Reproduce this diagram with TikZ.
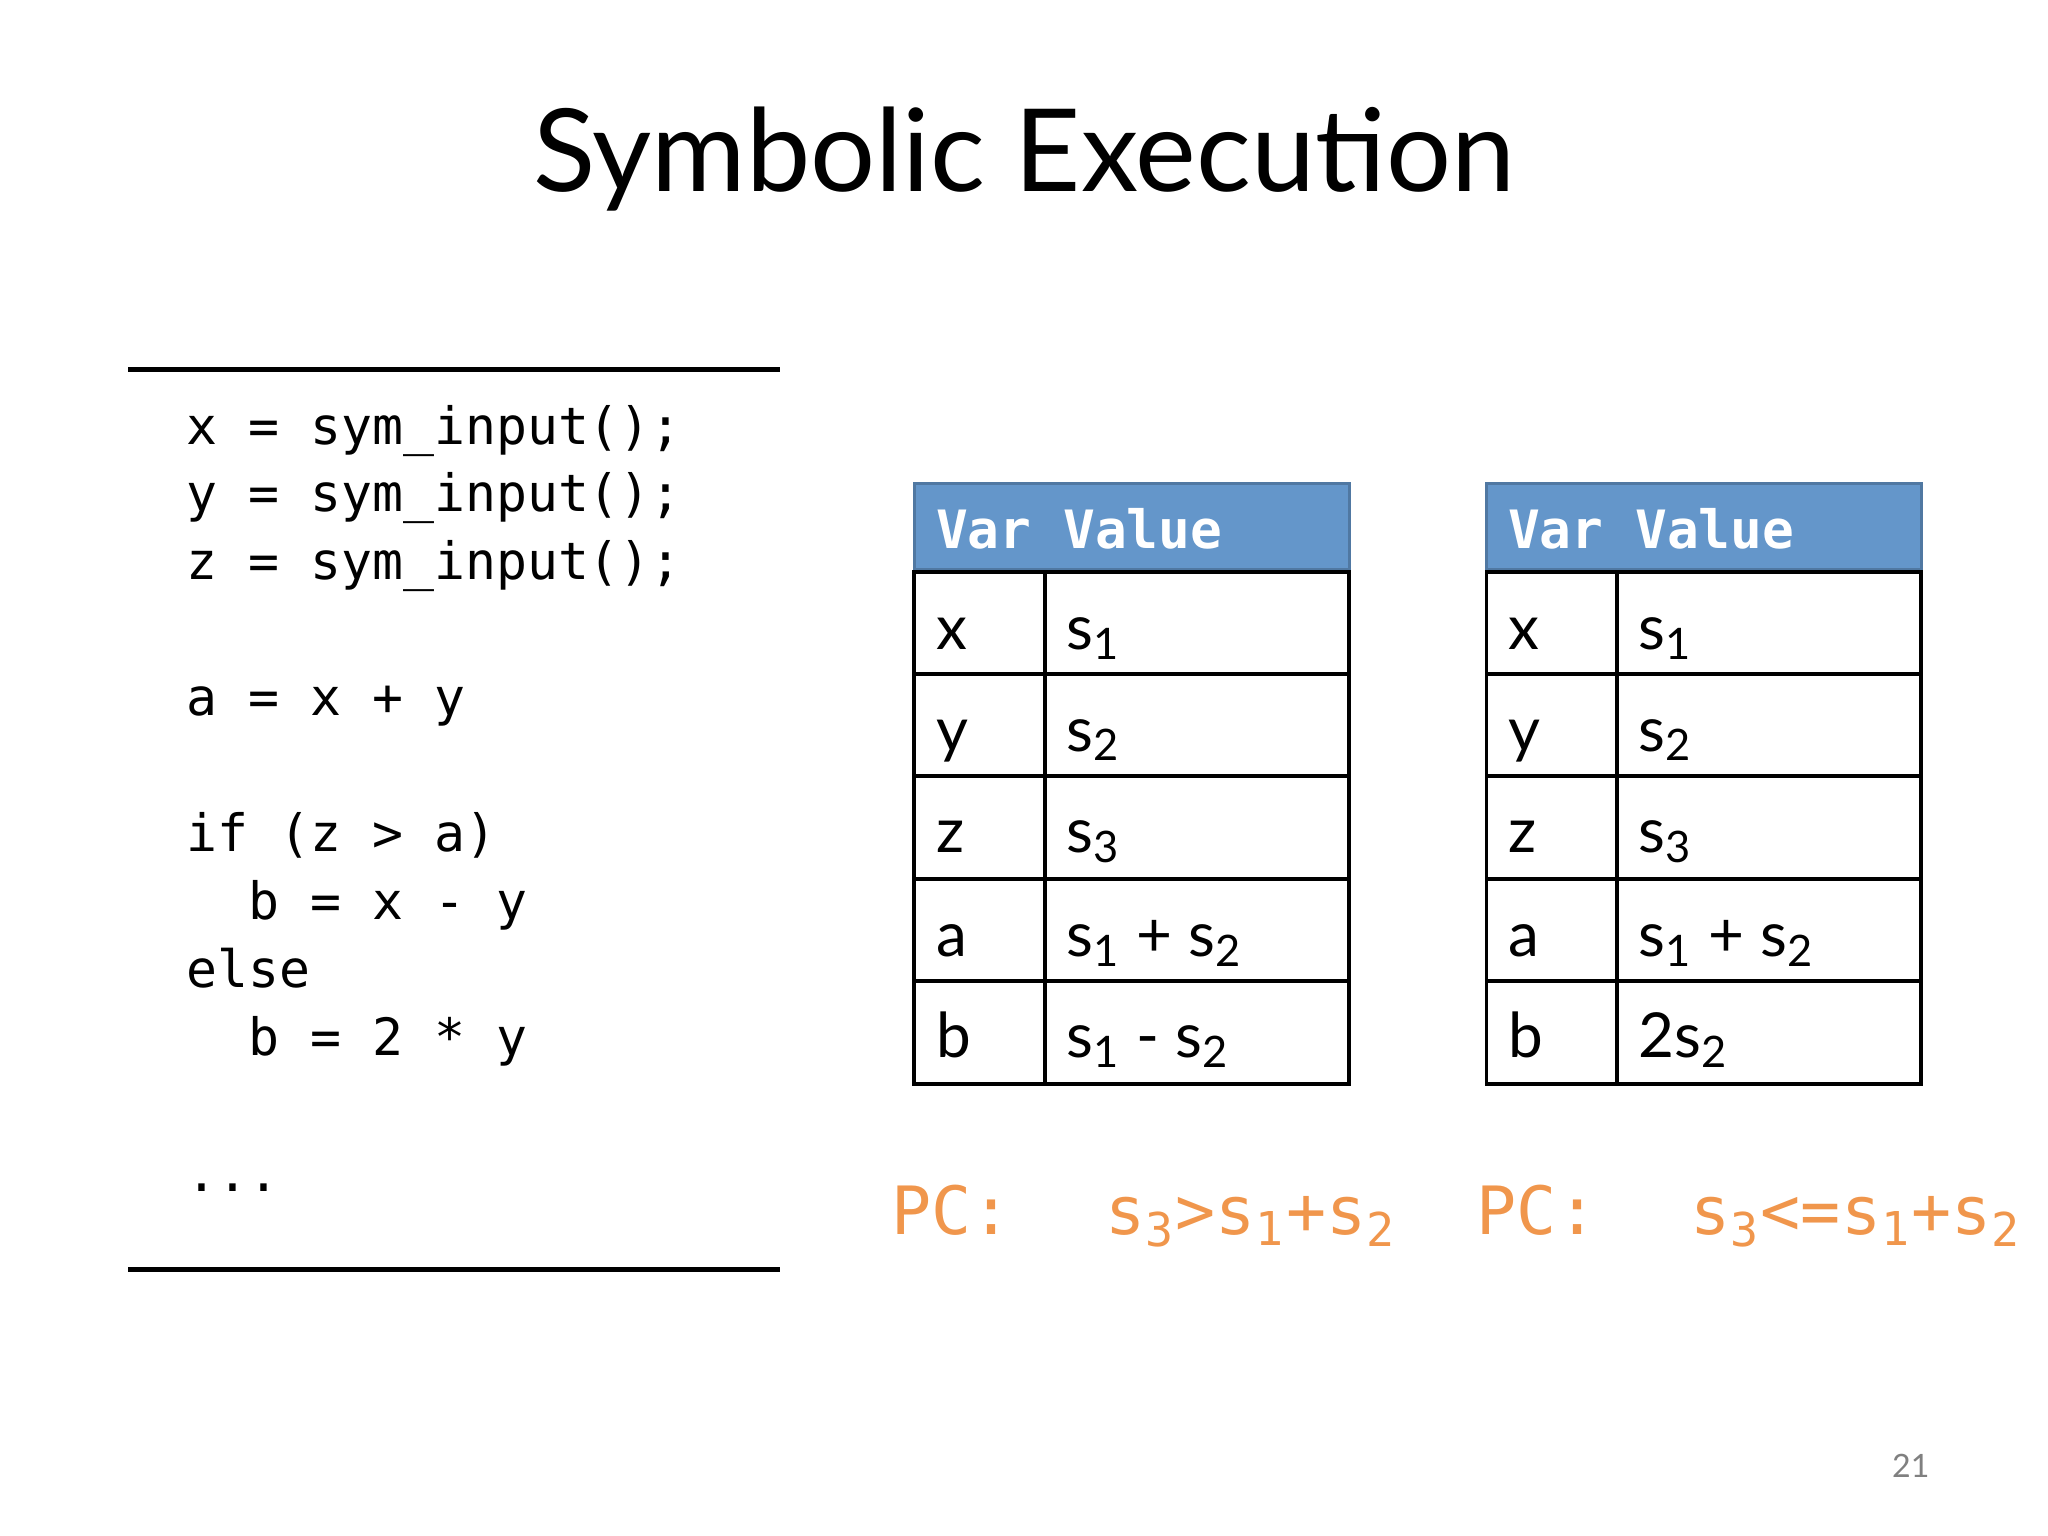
\documentclass[tikz,border=0pt]{standalone}
\usepackage{fontspec}
\setmainfont{Lato}
\setmonofont{DejaVu Sans Mono}
\definecolor{hdr}{HTML}{6496CA}
\definecolor{pcor}{HTML}{F0964C}
\begin{document}
\begin{tikzpicture}[x=0.01cm,y=-0.01cm,
  code/.style={anchor=base west,inner sep=0,font=\ttfamily\fontsize{11.2}{13}\selectfont},
  hd/.style={anchor=base west,inner sep=0,text=white,font=\ttfamily\bfseries\fontsize{11.5}{13}\selectfont},
  cell/.style={anchor=base west,inner sep=0,font=\fontsize{13.5}{15}\selectfont},
  pc/.style={anchor=base west,inner sep=0,text=pcor,font=\ttfamily\fontsize{14.5}{17}\selectfont},
  rule/.style={line width=0.8pt}]
\useasboundingbox (0,0) rectangle (1568,1176);
\node[font=\fontsize{25}{30}\selectfont] (title) at (784,122) {Symbolic Execution};
\draw[line width=1.2pt] (98,283) -- (597,283);
\draw[line width=1.2pt] (98,972) -- (597,972);
\node[code] (c1) at (142,340) {x = sym\_input();};
\node[code] (c2) at (142,392) {y = sym\_input();};
\node[code] (c3) at (142,444) {z = sym\_input();};
\node[code] (c4) at (142,548) {a = x + y};
\node[code] (c5) at (142,652) {if (z > a)};
\node[code] (c6) at (142,704) {\ \ b = x - y};
\node[code] (c7) at (142,756) {else};
\node[code] (c8) at (142,808) {\ \ b = 2 * y};
\node[code] (c9) at (142,912) {...};
\foreach \X/\v in {700/L,1138/R}{
  \fill[hdr] (\X,370) rectangle ++(333,66);
  \draw[hdr!80!black,line width=0.6pt] (\X,370) rectangle ++(333,66);
  \draw[rule] (\X,438) rectangle ++(333,392);
  \draw[rule] (\X+100,438) -- (\X+100,830);
  \foreach \yy in {516,594,673,751} \draw[rule] (\X,\yy) -- (\X+333,\yy);
  \node[hd] (hv\v) at (\X+16,420) {Var Value};
  \node[cell] (x\v) at (\X+16,497) {x};
  \node[cell] (sx\v) at (\X+116,497) {s\textsubscript{1}};
  \node[cell] (y\v) at (\X+16,575) {y};
  \node[cell] (sy\v) at (\X+116,575) {s\textsubscript{2}};
  \node[cell] (z\v) at (\X+16,653) {z};
  \node[cell] (sz\v) at (\X+116,653) {s\textsubscript{3}};
  \node[cell] (a\v) at (\X+16,732) {a};
  \node[cell] (sa\v) at (\X+116,732) {s\textsubscript{1} + s\textsubscript{2}};
  \node[cell] (b\v) at (\X+16,810) {b};
}
\node[cell] (sbL) at (816,810) {s\textsubscript{1} - s\textsubscript{2}};
\node[cell] (sbR) at (1254,810) {2s\textsubscript{2}};
\node[pc] (pc1) at (682,945) {PC:\hspace{1.4em}s\textsubscript{3}>s\textsubscript{1}+s\textsubscript{2}};
\node[pc] (pc2) at (1130,945) {PC:\hspace{1.4em}s\textsubscript{3}<=s\textsubscript{1}+s\textsubscript{2}};
\node[anchor=base west,inner sep=0,text=gray,font=\fontsize{7}{8}\selectfont] (pg) at (1448,1131) {21};
\end{tikzpicture}
\end{document}
